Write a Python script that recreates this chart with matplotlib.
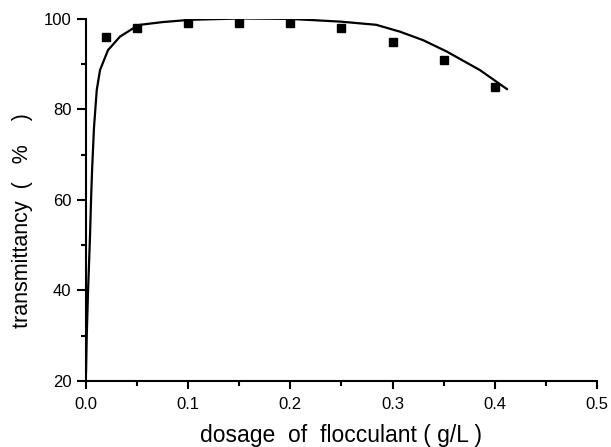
import numpy as np
import matplotlib.pyplot as plt
from matplotlib.ticker import MultipleLocator

plt.rcParams['font.family'] = ['Liberation Sans', 'DejaVu Sans']

# measured points
dosage = [0.02, 0.05, 0.1, 0.15, 0.2, 0.25, 0.3, 0.35, 0.4]
transmittancy = [96, 98, 99, 99, 99, 98, 95, 91, 85]

# fitted curve
fit_x = [0.0, 0.0007, 0.002, 0.0039, 0.0049, 0.006, 0.0078, 0.0105, 0.0137, 0.0215, 0.0333,
         0.046, 0.053, 0.075, 0.102, 0.151, 0.2, 0.249, 0.284, 0.307, 0.33,
         0.353, 0.3855, 0.412]
fit_y = [22, 30, 40, 52, 60, 67, 76, 84.3, 88.7, 93.1, 96.1,
         97.9, 98.7, 99.3, 99.8, 100.1, 100, 99.4, 98.7, 97.2, 95.3,
         92.8, 88.7, 84.5]

fig = plt.figure(figsize=(6.11, 4.47), dpi=100)
ax = fig.add_axes([0.1408, 0.1477, 0.836, 0.81])

ax.plot(fit_x, fit_y, color='black', linewidth=1.6)
ax.plot(dosage, transmittancy, 's', color='black', markersize=6.3)

ax.set_xlim(0, 0.5)
ax.set_ylim(20, 100)
ax.set_xticks([0, 0.1, 0.2, 0.3, 0.4, 0.5])
ax.set_xticklabels(['0.0', '0.1', '0.2', '0.3', '0.4', '0.5'])
ax.xaxis.set_minor_locator(MultipleLocator(0.05))
ax.yaxis.set_major_locator(MultipleLocator(20))
ax.yaxis.set_minor_locator(MultipleLocator(10))

for s in ['top', 'right']:
    ax.spines[s].set_visible(False)
for s in ['left', 'bottom']:
    ax.spines[s].set_linewidth(1.5)

ax.tick_params(axis='x', which='major', direction='out', length=5.5, width=1.5, labelsize=12, pad=6)
ax.tick_params(axis='y', which='major', direction='out', length=6.5, width=1.5, labelsize=12, pad=4)
ax.tick_params(which='minor', direction='out', length=3.5, width=1.5)

ax.set_xlabel('dosage  of  flocculant ( g/L )', fontsize=16.5)
ax.xaxis.set_label_coords(0.5, -0.12)
ax.set_ylabel('transmittancy  (   %    )', fontsize=15.5)
ax.yaxis.set_label_coords(-0.104, 0.442)

fig.savefig('out.png', dpi=100)
